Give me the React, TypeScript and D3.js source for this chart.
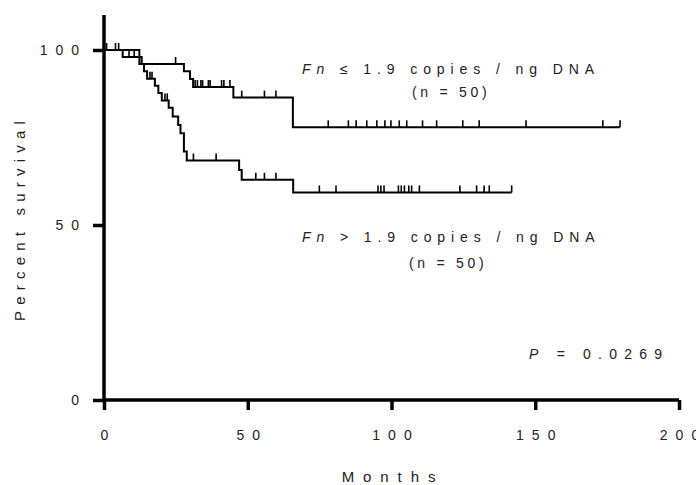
import React, { useEffect, useRef } from "react";
import * as d3 from "d3";

// Fn <= 1.9 copies / ng DNA
const lowTimes = [0, 12.3, 27.8, 29.9, 31.0, 45.0, 65.7];
const lowSurv = [100, 96, 93.9, 91.7, 89.4, 86.4, 77.9];
const lowEnd = 179.5;
const lowCensor = [
  4.0, 5.1, 24.9, 31.7, 32.5, 33.7, 34.3, 36.3, 36.9, 40.9, 41.7, 43.8, 47.9,
  55.8, 59.8, 78.0, 85.0, 87.7, 91.4, 94.9, 97.7, 99.8, 102.7, 105.3, 110.8,
  115.7, 124.8, 130.5, 146.8, 173.5, 179.5,
];

// Fn > 1.9 copies / ng DNA
const highTimes = [
  0, 6.5, 13.1, 13.9, 15.0, 17.7, 18.9, 20.1, 22.5, 23.9, 25.8, 26.6, 27.8,
  28.8, 47.0, 47.9, 65.8,
];
const highSurv = [
  100, 98, 96, 93.9, 91.8, 89.8, 87.7, 85.6, 83.5, 81, 78.6, 76.2, 71, 68.4,
  65.7, 62.9, 59.3,
];
const highEnd = 141.8;
const highCensor = [
  0.9, 8.7, 10.5, 16.0, 16.7, 21.2, 22.0, 31.1, 39.0, 52.8, 55.8, 59.8, 74.9,
  80.7, 95.3, 96.3, 97.4, 102.4, 103.4, 104.5, 106.0, 107.0, 109.7, 123.8,
  129.6, 132.2, 134.0, 141.8,
];

const xTicks = [0, 50, 100, 150, 200];
const yTicks = [0, 50, 100];

export default function App() {
  const ref = useRef<SVGSVGElement>(null);

  useEffect(() => {
    draw();
  }, []);

  const draw = () => {
    const svg = d3.select(ref.current);
    svg.selectAll("*").remove();

    const x = d3.scaleLinear().domain([0, 200]).range([104, 679]);
    const y = d3.scaleLinear().domain([0, 110]).range([400, 15]);
    const font = "'Liberation Sans', Arial, sans-serif";

    // survival curves (step functions)
    const line = d3
      .line<[number, number]>()
      .x((d) => x(d[0]))
      .y((d) => y(d[1]))
      .curve(d3.curveStepAfter);

    const survAt = (times: number[], surv: number[], t: number) => {
      let s = surv[0];
      times.forEach((tt, i) => {
        if (tt <= t) s = surv[i];
      });
      return s;
    };

    const groups = [
      { times: lowTimes, surv: lowSurv, end: lowEnd, censor: lowCensor },
      { times: highTimes, surv: highSurv, end: highEnd, censor: highCensor },
    ];

    groups.forEach((g) => {
      const pts: [number, number][] = g.times.map((t, i) => [t, g.surv[i]]);
      pts.push([g.end, g.surv[g.surv.length - 1]]);
      svg
        .append("path")
        .attr("d", line(pts))
        .attr("fill", "none")
        .attr("stroke", "#000")
        .attr("stroke-width", 2);

      // censor marks
      svg
        .selectAll(null)
        .data(g.censor)
        .enter()
        .append("line")
        .attr("x1", (d) => x(d))
        .attr("x2", (d) => x(d))
        .attr("y1", (d) => y(survAt(g.times, g.surv, d)))
        .attr("y2", (d) => y(survAt(g.times, g.surv, d)) - 7)
        .attr("stroke", "#000")
        .attr("stroke-width", 1.6);
    });

    // axes
    const xAxis = svg
      .append("g")
      .attr("transform", `translate(0, ${y(0)})`)
      .call(d3.axisBottom(x).tickValues(xTicks).tickSize(10).tickPadding(20));
    const yAxis = svg
      .append("g")
      .attr("transform", `translate(${x(0)}, 0)`)
      .call(d3.axisLeft(y).tickValues(yTicks).tickSize(11).tickPadding(14));

    [xAxis, yAxis].forEach((a) => {
      a.select(".domain").attr("stroke", "#000").attr("stroke-width", 3.5);
      a.selectAll(".tick line").attr("stroke", "#000").attr("stroke-width", 3.5);
      a.selectAll(".tick text")
        .attr("fill", "#222")
        .style("font-family", font)
        .style("font-size", "14px")
        .style("letter-spacing", "8px");
    });
    xAxis.select(".domain").attr("d", `M${x(0)},0H${x(200)}`);
    yAxis.select(".domain").attr("d", `M0,${y(110)}V${y(0)}`);
    xAxis.selectAll(".tick text").attr("dx", 4);
    yAxis.selectAll(".tick text").attr("dx", 8);

    // axis titles
    svg
      .append("text")
      .attr("x", 393)
      .attr("y", 482)
      .attr("text-anchor", "middle")
      .style("font-family", font)
      .style("font-size", "15px")
      .style("letter-spacing", "8.9px")
      .attr("fill", "#222")
      .text("Months");

    svg
      .append("text")
      .attr("transform", `translate(25, 218) rotate(-90)`)
      .attr("text-anchor", "middle")
      .style("font-family", font)
      .style("font-size", "15px")
      .style("letter-spacing", "6.2px")
      .attr("fill", "#222")
      .text("Percent survival");

    // annotations
    const label = (
      xx: number,
      yy: number,
      spacing: number,
      italic: string,
      rest: string
    ) => {
      const t = svg
        .append("text")
        .attr("x", xx)
        .attr("y", yy)
        .style("font-family", font)
        .style("font-size", "14px")
        .style("letter-spacing", `${spacing}px`)
        .attr("fill", "#222");
      if (italic) t.append("tspan").style("font-style", "italic").text(italic);
      t.append("tspan").text(rest);
    };

    label(302, 74, 5.9, "Fn", " \u2264 1.9 copies / ng DNA");
    label(412, 97, 3.7, "", "(n = 50)");
    label(302, 242, 5.9, "Fn", " > 1.9 copies / ng DNA");
    label(409, 268, 3.7, "", "(n = 50)");
    label(529, 359, 7.2, "P", " = 0.0269");
  };

  return (
    <svg
      ref={ref}
      width={696}
      height={485}
      style={{ position: "absolute", left: 0, top: 0, background: "#fff" }}
    />
  );
}
